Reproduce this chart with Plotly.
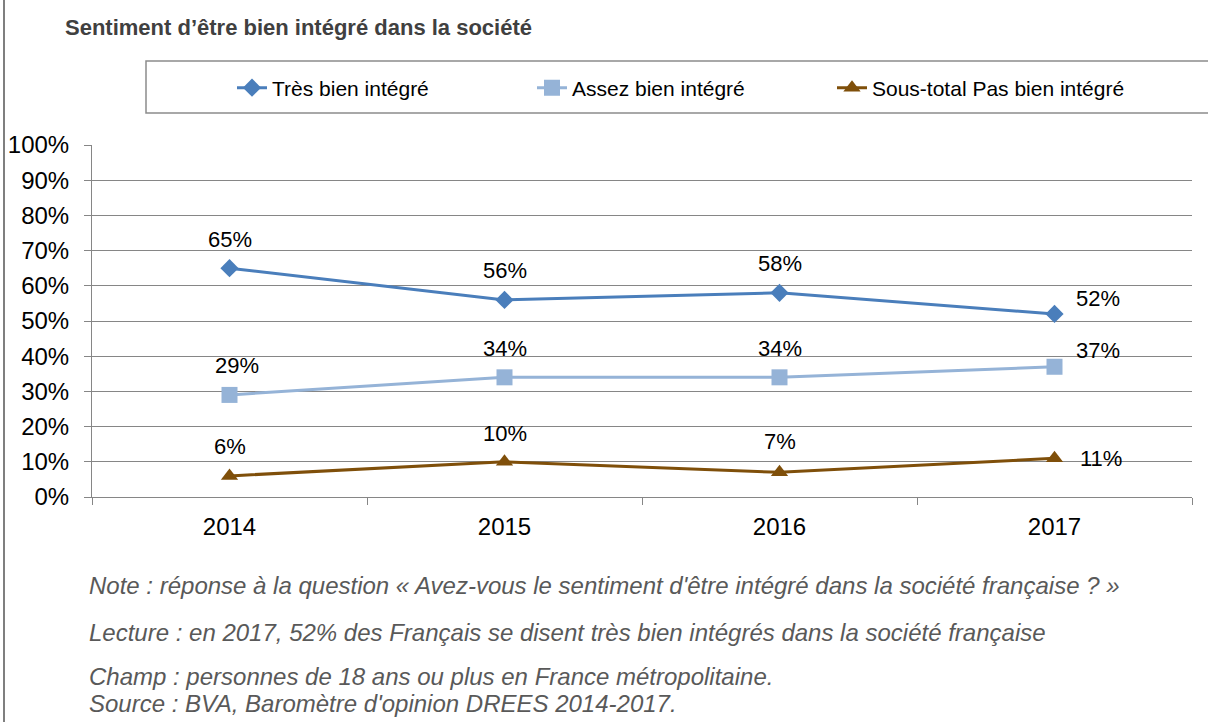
import plotly.graph_objects as go

# Data
years = ["2014", "2015", "2016", "2017"]
tres_bien = [65, 56, 58, 52]
assez_bien = [29, 34, 34, 37]
pas_bien = [6, 10, 7, 11]

title_text = "Sentiment d’être bien intégré dans la société"
notes = [
    "Note : réponse à la question « Avez-vous le sentiment d'être intégré dans la société française ? »",
    "Lecture : en 2017, 52% des Français se disent très bien intégrés dans la société française",
    "Champ : personnes de 18 ans ou plus en France métropolitaine.",
    "Source : BVA, Baromètre d'opinion DREES 2014-2017.",
]

FONT = "Arial, Liberation Sans, sans-serif"
W, H = 1208, 722
L, R, T, B = 92, 16, 145, 225
PW, PH = W - L - R, H - T - B


def px_x(x):
    return (x - L) / PW


def px_y(y):
    return (H - B - y) / PH


series = [
    ("Très bien intégré", tres_bien, "#4A7EBB", "diamond", 14),
    ("Assez bien intégré", assez_bien, "#95B3D7", "square", 16),
    ("Sous-total Pas bien intégré", pas_bien, "#7F4F0A", "triangle-up", 15),
]

fig = go.Figure()
for name, vals, color, symbol, size in series:
    fig.add_trace(go.Scatter(
        x=years, y=vals, name=name, mode="lines+markers",
        line=dict(color=color, width=3),
        marker=dict(symbol=symbol, size=size, color=color),
    ))

# data labels: above, except last year to the right
label_shifts = {
    "Très bien intégré": [(0, 29), (0, 29), (0, 29), (43, 15)],
    "Assez bien intégré": [(7, 29), (0, 29), (0, 29), (43, 16)],
    "Sous-total Pas bien intégré": [(0, 29), (0, 28), (0, 31), (46, 0)],
}
for name, vals, color, symbol, size in series:
    for i, v in enumerate(vals):
        dx, dy = label_shifts[name][i]
        fig.add_annotation(
            x=i, y=v, text=f"{v}%", showarrow=False,
            xshift=dx, yshift=dy,
            font=dict(family=FONT, size=22, color="#000000"),
        )

# notes under the chart
note_y = [585, 632, 676, 703]
for txt, yp in zip(notes, note_y):
    fig.add_annotation(
        x=px_x(87), y=px_y(yp), xref="paper", yref="paper",
        xanchor="left", yanchor="middle", showarrow=False, text=f"<i>{txt}</i>",
        font=dict(family=FONT, size=24, color="#595959"),
    )

# legend box and outer left border
fig.add_shape(type="rect", xref="paper", yref="paper",
              x0=px_x(146), x1=px_x(1230), y0=px_y(113), y1=px_y(61),
              line=dict(color="#8C8C8C", width=1.5), fillcolor="rgba(0,0,0,0)")
fig.add_shape(type="line", xref="paper", yref="paper",
              x0=px_x(4), x1=px_x(4), y0=px_y(730), y1=px_y(-10),
              line=dict(color="#7F7F7F", width=2))

fig.update_layout(
    width=W, height=H,
    margin=dict(l=L, r=R, t=T, b=B),
    paper_bgcolor="white", plot_bgcolor="white",
    font=dict(family=FONT, size=22, color="#000000"),
    title=dict(text=f"<b>{title_text}</b>", xref="container", yref="container",
               x=65 / W, y=1 - 27 / H, xanchor="left", yanchor="middle",
               font=dict(family=FONT, size=22, color="#404040")),
    showlegend=True,
    legend=dict(orientation="h", x=px_x(232), y=px_y(88),
                xanchor="left", yanchor="middle",
                entrywidth=255, bgcolor="rgba(0,0,0,0)",
                font=dict(family=FONT, size=21, color="#000000")),
    xaxis=dict(type="category", range=[-0.5, 3.5], showgrid=False,
               showline=True, linecolor="#868686", linewidth=1,
               ticks="outside", tickson="boundaries", ticklen=7, tickcolor="#868686",
               ticklabelstandoff=8, automargin=False,
               tickfont=dict(family=FONT, size=24, color="#000000"), fixedrange=True),
    yaxis=dict(range=[0, 100], dtick=10, ticksuffix="%",
               showgrid=True, gridcolor="#868686", gridwidth=1,
               showline=True, linecolor="#868686", linewidth=1,
               ticks="outside", ticklen=7, tickcolor="#868686",
               ticklabelstandoff=10, zeroline=False, automargin=False,
               tickfont=dict(family=FONT, size=24, color="#000000"), fixedrange=True),
)

fig.write_html("out.html", config={"displayModeBar": False},
               post_script="document.body.style.margin='0';")
